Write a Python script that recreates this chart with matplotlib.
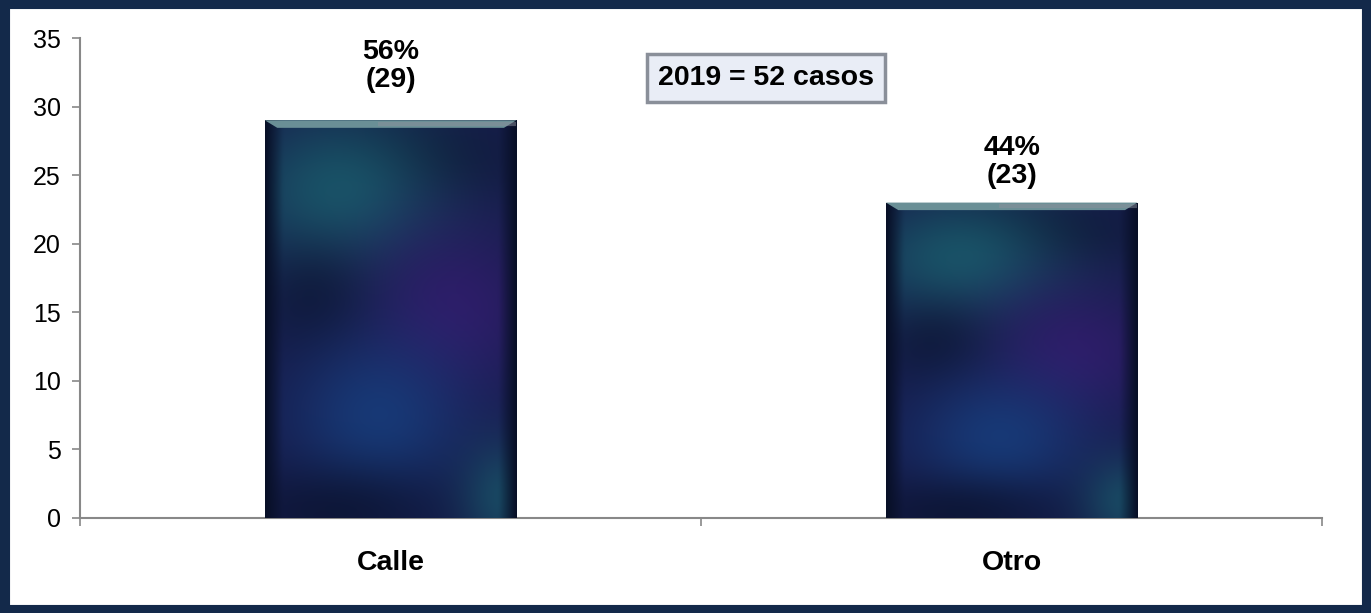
import numpy as np
import matplotlib.pyplot as plt
from matplotlib.patches import Rectangle, Polygon

plt.rcParams['font.family'] = ['Liberation Sans', 'DejaVu Sans']

# datos
categorias = ["Calle", "Otro"]
casos = [29, 23]
porcentajes = ["56%", "44%"]
total_texto = "2019 = 52 casos"

fig = plt.figure(figsize=(13.71, 6.13), dpi=100)
ax = fig.add_axes([0.0584, 0.155, 0.906, 0.783])

# marco oscuro alrededor de la figura
fig.patches.append(Rectangle((0.003, 0.005), 0.994, 0.99, transform=fig.transFigure,
                             fill=False, edgecolor="#13294a", linewidth=8, zorder=0))

x = np.arange(len(categorias))
barras = ax.bar(x, casos, width=0.405, color="#1b1f5a", zorder=2)

# relleno tipo textura (degradado azul / morado / verde azulado)
h, w = 200, 120
yy, xx = np.mgrid[0:1:h*1j, 0:1:w*1j]
def mancha(cx, cy, sx, sy):
    return np.exp(-((xx - cx) ** 2 / (2 * sx ** 2) + (yy - cy) ** 2 / (2 * sy ** 2)))
base = np.array([0.09, 0.11, 0.30])
teal = np.array([0.10, 0.35, 0.42])
morado = np.array([0.19, 0.11, 0.42])
azul = np.array([0.09, 0.25, 0.50])
oscuro = np.array([0.03, 0.06, 0.15])
img = np.ones((h, w, 3)) * base
for col, m in [(oscuro, 0.6 * mancha(0.6, 0.9, 0.3, 0.08)),
               (teal, 0.9 * mancha(0.3, 0.82, 0.3, 0.15)),
               (morado, 0.9 * mancha(0.75, 0.52, 0.25, 0.15)),
               (oscuro, 0.5 * mancha(0.2, 0.55, 0.15, 0.1)),
               (azul, 0.8 * mancha(0.45, 0.25, 0.25, 0.15)),
               (oscuro, 0.6 * mancha(0.3, 0.02, 0.3, 0.08)),
               (teal, 0.7 * mancha(0.95, 0.05, 0.12, 0.1))]:
    img = img * (1 - m[..., None]) + col * m[..., None]
borde = np.minimum(np.minimum(xx, 1 - xx) / 0.07, 1)[..., None]
img = oscuro * (1 - borde) + img * borde

for b in barras:
    x0, y0 = b.get_x(), b.get_y()
    bw, bh = b.get_width(), b.get_height()
    im = ax.imshow(img, extent=[x0, x0 + bw, y0, y0 + bh], origin="lower",
                   aspect="auto", interpolation="bicubic", zorder=3)
    im.set_clip_path(b)
    # bisel superior
    top = y0 + bh
    bisel = Polygon([[x0, top], [x0 + bw, top], [x0 + bw - 0.02, top - 0.55],
                     [x0 + 0.02, top - 0.55]], closed=True, facecolor="#6a8f96",
                    edgecolor="none", zorder=4)
    ax.add_patch(bisel)
    ax.plot([x0 + bw * 0.45, x0 + bw], [top - 0.25, top - 0.25], color="#8a8f9a",
            linewidth=3, alpha=0.5, zorder=5, solid_capstyle="butt")

ax.set_xlim(-0.5, 1.5)
ax.set_ylim(0, 35)
ax.set_yticks(np.arange(0, 36, 5))
ax.set_xticks([-0.5, 0.5, 1.5])
ax.set_xticklabels([])
ax.tick_params(axis="y", labelsize=18, color="#888888", length=6, width=1.2, pad=8)
ax.tick_params(axis="x", color="#888888", length=6, width=1.2, direction="out")
for cx, c in zip(x, categorias):
    ax.text(cx, -3.3, c, ha="center", va="center", fontsize=20.5, fontweight="bold")

for s in ["top", "right"]:
    ax.spines[s].set_visible(False)
for s in ["left", "bottom"]:
    ax.spines[s].set_color("#888888")
    ax.spines[s].set_linewidth(1.5)

# etiquetas de porcentaje y casos
desplaz = [2.0, 1.0]
for cx, v, p, d in zip(x, casos, porcentajes, desplaz):
    ax.text(cx, v + d, p + "\n(" + str(v) + ")", ha="center", va="bottom",
            fontsize=20.5, fontweight="bold", linespacing=1.1)

ax.text(0.552, 0.917, total_texto, transform=ax.transAxes, ha="center", va="center",
        fontsize=20.5, fontweight="bold",
        bbox=dict(boxstyle="square,pad=0.38", facecolor="#e9edf6", edgecolor="#8a8f99", linewidth=2.5))

fig.savefig("out.png", dpi=100)
